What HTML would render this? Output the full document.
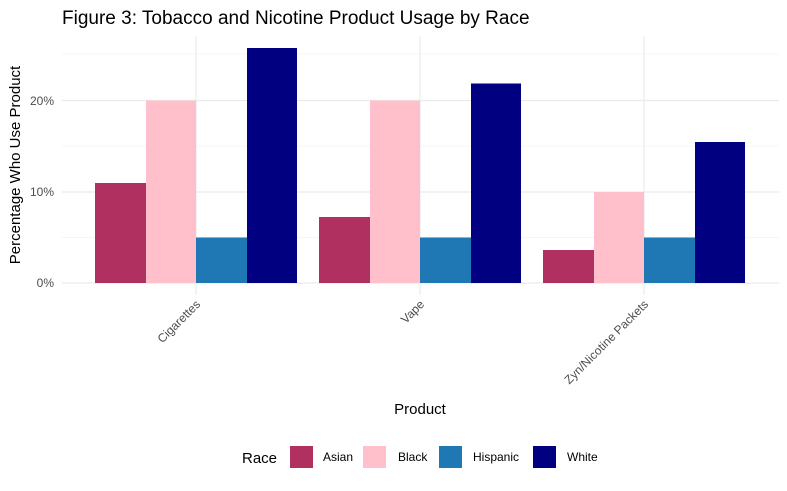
<!DOCTYPE html>
<html><head><meta charset="utf-8"><style>body{margin:0;background:#fff}</style></head><body>
<svg width="787" height="486" xmlns="http://www.w3.org/2000/svg" font-family="Liberation Sans, sans-serif">
<rect width="787" height="486" fill="#fff"/>
<g stroke="#ebebeb" stroke-width="0.6">
<line x1="62" x2="779" y1="54" y2="54"/><line x1="62" x2="779" y1="146" y2="146"/><line x1="62" x2="779" y1="237.5" y2="237.5"/>
</g>
<g stroke="#ebebeb" stroke-width="1.2">
<line x1="62" x2="779" y1="283" y2="283"/><line x1="62" x2="779" y1="192" y2="192"/><line x1="62" x2="779" y1="100.5" y2="100.5"/>
<line x1="196" x2="196" y1="36" y2="295"/><line x1="420" x2="420" y1="36" y2="295"/><line x1="644" x2="644" y1="36" y2="295"/>
</g>
<g>
<rect x="95" y="183" width="51" height="100" fill="#B03060"/>
<rect x="146" y="100.5" width="50" height="182.5" fill="#FFC0CB"/>
<rect x="196" y="237.5" width="51" height="45.5" fill="#1F77B4"/>
<rect x="247" y="48" width="50" height="235" fill="#000080"/>
<rect x="319" y="217" width="51" height="66" fill="#B03060"/>
<rect x="370" y="100.5" width="50" height="182.5" fill="#FFC0CB"/>
<rect x="420" y="237.5" width="51" height="45.5" fill="#1F77B4"/>
<rect x="471" y="83.5" width="50" height="199.5" fill="#000080"/>
<rect x="543" y="250" width="51" height="33" fill="#B03060"/>
<rect x="594" y="192" width="50" height="91" fill="#FFC0CB"/>
<rect x="644" y="237.5" width="51" height="45.5" fill="#1F77B4"/>
<rect x="695" y="142" width="50" height="141" fill="#000080"/>
</g>
<g font-size="12" fill="#4d4d4d" text-anchor="end">
<text x="54" y="287">0%</text><text x="54" y="196">10%</text><text x="54" y="105">20%</text>
<text transform="translate(201,305) rotate(-45)">Cigarettes</text>
<text transform="translate(425,305) rotate(-45)">Vape</text>
<text transform="translate(649,305) rotate(-45)">Zyn/Nicotine Packets</text>
</g>
<text x="62" y="24" font-size="19" fill="#000">Figure 3: Tobacco and Nicotine Product Usage by Race</text>
<text x="420" y="414" font-size="15" text-anchor="middle">Product</text>
<text transform="translate(20,165) rotate(-90)" font-size="15" text-anchor="middle">Percentage Who Use Product</text>
<text x="242" y="463" font-size="15">Race</text>
<rect x="290" y="446" width="23" height="22" fill="#B03060"/><text x="323" y="461" font-size="12">Asian</text>
<rect x="363" y="446" width="23" height="22" fill="#FFC0CB"/><text x="398" y="461" font-size="12">Black</text>
<rect x="439" y="446" width="23" height="22" fill="#1F77B4"/><text x="473" y="461" font-size="12">Hispanic</text>
<rect x="533" y="446" width="23" height="22" fill="#000080"/><text x="567" y="461" font-size="12">White</text>
</svg>
</body></html>
